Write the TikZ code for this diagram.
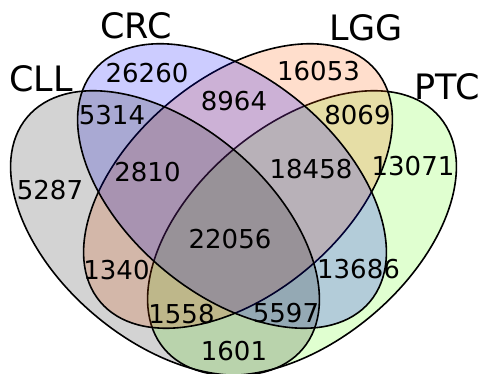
\documentclass[tikz,border=0pt]{standalone}
\usepackage{fontspec}
\setmainfont{DejaVu Sans}
\definecolor{cllc}{RGB}{0,0,0}
\definecolor{crcc}{RGB}{0,0,255}
\definecolor{lggc}{RGB}{255,90,0}
\definecolor{ptcc}{RGB}{131,255,67}
\begin{document}
\begin{tikzpicture}[x=1pt,y=1pt,
  setedge/.style={draw=black, line width=1.6pt},
  num/.style={font=\fontsize{26}{30}\selectfont, inner sep=0pt},
  setname/.style={font=\fontsize{35}{40}\selectfont, inner sep=0pt}]
\clip (0,0) rectangle (481,374);
% sets drawn back to front: PTC, LGG, CRC, CLL
\fill[ptcc, fill opacity=0.25, rotate around={40:(302,141)}] (302,141) ellipse [x radius=180, y radius=108];
\draw[setedge, rotate around={40:(302,141)}] (302,141) ellipse [x radius=180, y radius=108];
\fill[lggc, fill opacity=0.2, rotate around={40:(238,188)}] (238,188) ellipse [x radius=180, y radius=108];
\draw[setedge, rotate around={40:(238,188)}] (238,188) ellipse [x radius=180, y radius=108];
\fill[crcc, fill opacity=0.2, rotate around={140:(232,188)}] (232,188) ellipse [x radius=180, y radius=108];
\draw[setedge, rotate around={140:(232,188)}] (232,188) ellipse [x radius=180, y radius=108];
\fill[cllc, fill opacity=0.173, rotate around={140:(165,141)}] (165,141) ellipse [x radius=180, y radius=108];
\draw[setedge, rotate around={140:(165,141)}] (165,141) ellipse [x radius=180, y radius=108];
% set names
\node[setname] (nCLL) at (41,295.5) {CLL};
\node[setname] (nCRC) at (136,348.5) {CRC};
\node[setname] (nLGG) at (366,346.5) {LGG};
\node[setname] (nPTC) at (447,287) {PTC};
% region counts
\node[num] (r0100) at (147,301) {26260};
\node[num] (r0010) at (318.5,303) {16053};
\node[num] (r1100) at (112,259) {5314};
\node[num] (r0110) at (234,273) {8964};
\node[num] (r0011) at (357.5,258.5) {8069};
\node[num] (r1000) at (50,184) {5287};
\node[num] (r1110) at (147.5,202) {2810};
\node[num] (r0111) at (311,205) {18458};
\node[num] (r0001) at (413,208) {13071};
\node[num] (r1111) at (230,135) {22056};
\node[num] (r1010) at (116.5,104) {1340};
\node[num] (r0101) at (358.5,105) {13686};
\node[num] (r1011) at (181.5,60) {1558};
\node[num] (r1101) at (286,61) {5597};
\node[num] (r1001) at (234,23) {1601};
\end{tikzpicture}
\end{document}
